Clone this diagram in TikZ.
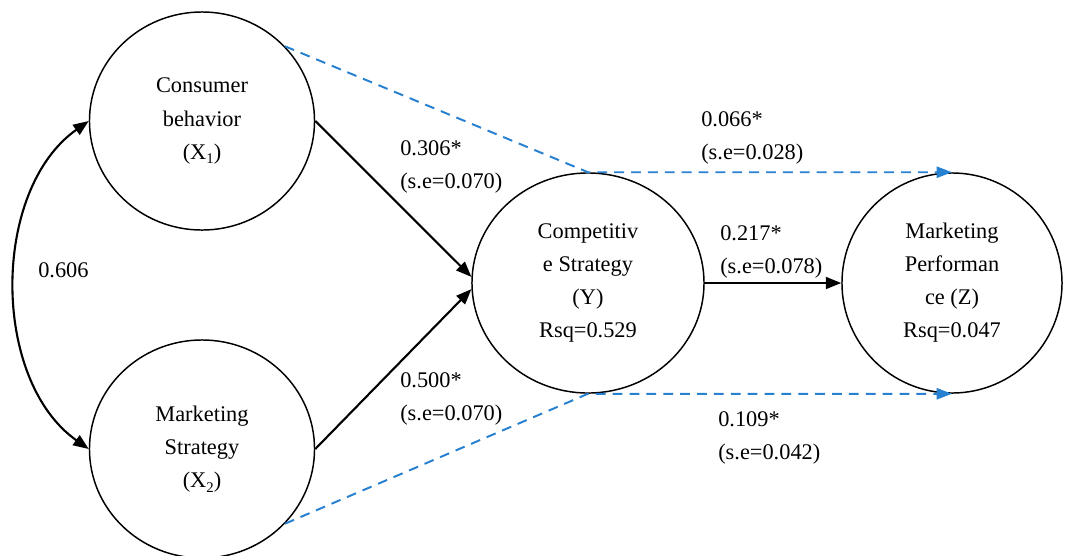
\documentclass[tikz,border=0pt]{standalone}
\usepackage{fontspec}
\setmainfont{Liberation Serif}
\usetikzlibrary{arrows.meta,shapes.geometric}
\definecolor{lineblue}{RGB}{40,128,208}
\newcommand{\lowsub}[1]{\raisebox{-0.45ex}{\fontsize{10.5}{12}\selectfont #1}}
\begin{document}
\begin{tikzpicture}[x=0.025cm,y=-0.025cm,
  every node/.style={font=\fontsize{15.9}{23.5}\selectfont},
  latent/.style={ellipse,draw,line width=1.05pt,align=center,inner sep=0pt},
  solidarrow/.style={line width=1.5pt,-{Triangle[length=11pt,width=8.5pt]}},
  dpath/.style={draw=lineblue,line width=1.4pt,dash pattern=on 7pt off 5pt,-{Triangle[length=11pt,width=8pt,fill=lineblue]}},
  coef/.style={anchor=west,align=left,inner sep=0pt}]
\useasboundingbox (0,0) rectangle (1074,555);
\node[latent,minimum width=5.625cm,minimum height=5.45cm] (x1) at (202,121) {Consumer\\behavior\\(X\lowsub{1})};
\node[latent,minimum width=5.625cm,minimum height=5.45cm] (x2) at (202,449) {Marketing\\Strategy\\(X\lowsub{2})};
\node[latent,minimum width=5.8cm,minimum height=5.5cm] (y) at (588,283) {Competitiv\\e Strategy\\(Y)\\Rsq=0.529};
\node[latent,minimum width=5.5cm,minimum height=5.5cm] (z) at (952,283) {Marketing\\Performan\\ce (Z)\\Rsq=0.047};
\draw[solidarrow] (x1.east) -- (y.177);
\draw[solidarrow] (x2.east) -- (y.183);
\draw[solidarrow] (y.east) -- (z.west);
\draw[dpath] (x1.42) -- (y.north) -- (z.north);
\draw[dpath] (x2.318) -- (y.south) -- (z.south);
\draw[line width=1.5pt,{Triangle[length=11pt,width=8.5pt]}-{Triangle[length=11pt,width=8.5pt]}] (x1.west) .. controls (-9,190) and (-9,380) .. (x2.west);
\node[coef] (l1) at (400,167) {0.306*\\(s.e=0.070)};
\node[coef] (l2) at (400,399) {0.500*\\(s.e=0.070)};
\node[coef] (l3) at (701,138) {0.066*\\(s.e=0.028)};
\node[coef] (l4) at (720,252) {0.217*\\(s.e=0.078)};
\node[coef] (l5) at (718,438) {0.109*\\(s.e=0.042)};
\node[coef] (l6) at (38,270) {0.606};
\end{tikzpicture}
\end{document}
